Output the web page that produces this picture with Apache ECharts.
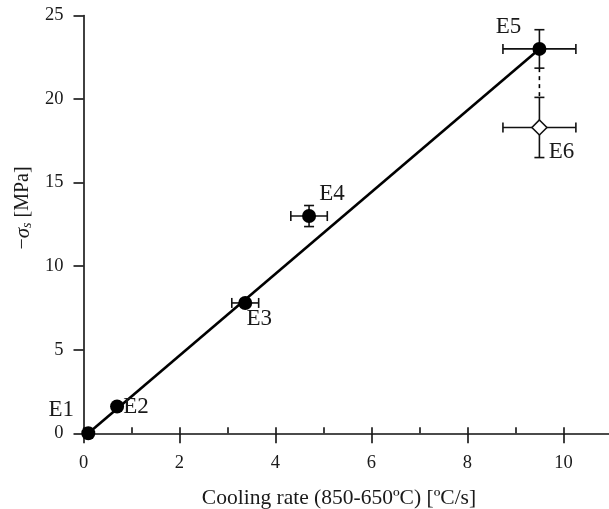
<!DOCTYPE html>
<html>
<head>
<meta charset="utf-8">
<script src="https://cdn.jsdelivr.net/npm/echarts@6/dist/echarts.min.js"></script>
<style>html,body{margin:0;padding:0;background:#fff;}#c{width:609px;height:509px;}</style>
</head>
<body>
<div id="c"></div>
<script>
// ---- data ----
const names = ['E1', 'E2', 'E3', 'E4', 'E5', 'E6'];
const xVals = [0.1, 0.7, 3.37, 4.7, 9.5, 9.5];
const yVals = [0, 1.6, 7.8, 13.0, 23.0, 18.3];
const xErr = [0, 0, 0.28, 0.38, 0.76, 0.76];
const yErr = [0, 0, 0, 0.63, 1.15, 1.8];
const fitX = [0.1, 9.5];
const fitY = [0, 23];
const xMajorTicks = [0, 2, 4, 6, 8, 10];
const xAllTicks = [0, 1, 2, 3, 4, 5, 6, 7, 8, 9, 10];
const yTicks = [0, 5, 10, 15, 20, 25];

const FONT = '"Liberation Serif", "DejaVu Serif", serif';
const INK = '#111';
const TXT = '#1a1a1a';

// label offsets (style)
const labelOffsets = [[-27, -23], [19, 0], [14, 16], [23, -22], [-31, -22], [22, 24]];

const chart = echarts.init(document.getElementById('c'), null, {renderer: 'canvas'});

const pointData = names.map((n, i) => ({
  value: [xVals[i], yVals[i]],
  name: n,
  symbol: i === 5 ? 'diamond' : 'circle',
  symbolSize: i === 5 ? 15 : 14,
  itemStyle: i === 5 ? {color: '#fff', borderColor: INK, borderWidth: 1.6, opacity: 1} : {color: '#000', opacity: 1},
  label: {show: true, position: 'inside', offset: labelOffsets[i], formatter: n,
          fontFamily: FONT, fontSize: 23, color: TXT, opacity: 1, textBorderWidth: 0,
          align: 'center', verticalAlign: 'middle'}
}));

const errData = names.map((n, i) => [xVals[i], yVals[i], xErr[i], yErr[i]]);

const option = {
  animation: false,
  backgroundColor: '#fff',
  grid: {left: 83.5, top: 15.5, right: 0, bottom: 75.7, containLabel: false},
  xAxis: [
    {
      type: 'value', min: 0, max: 10.95, gridIndex: 0, position: 'bottom',
      axisLine: {show: true, onZero: false, lineStyle: {color: INK, width: 1.6}},
      axisTick: {show: true, inside: true, length: 6, customValues: xAllTicks, lineStyle: {color: INK, width: 1.6}},
      axisLabel: {show: false},
      splitLine: {show: false}
    },
    {
      type: 'value', min: 0, max: 10.95, gridIndex: 0, position: 'bottom',
      axisLine: {show: false, onZero: false},
      axisTick: {show: true, inside: false, length: 10, customValues: xMajorTicks, lineStyle: {color: INK, width: 1.6}},
      axisLabel: {show: true, customValues: xMajorTicks, margin: 20, fontFamily: FONT, fontSize: 18.5, color: TXT},
      splitLine: {show: false}
    }
  ],
  yAxis: {
    type: 'value', min: 0, max: 25, interval: 5,
    axisLine: {show: true, onZero: false, lineStyle: {color: INK, width: 1.6}},
    axisTick: {show: true, inside: false, length: 10, lineStyle: {color: INK, width: 1.6}},
    axisLabel: {show: true, margin: 20, fontFamily: FONT, fontSize: 18.5, color: TXT},
    splitLine: {show: false}
  },
  graphic: [
    {type: 'text', x: 339, y: 498, z: 100,
     style: {text: 'Cooling rate (850-650ºC) [ºC/s]', font: '21.5px ' + FONT, fill: TXT,
             textAlign: 'center', textVerticalAlign: 'middle', align: 'center', verticalAlign: 'middle'}},
    {type: 'text', x: 23, y: 208, rotation: Math.PI / 2, z: 100,
     style: {text: '{m|−}{g|σ}{s|s}{m| [MPa]}', fill: TXT,
             textAlign: 'center', textVerticalAlign: 'middle', align: 'center', verticalAlign: 'middle',
             rich: {
               m: {fontFamily: FONT, fontSize: 20, fill: TXT, color: TXT},
               g: {fontFamily: FONT, fontSize: 21, fontStyle: 'italic', fill: TXT, color: TXT},
               s: {fontFamily: FONT, fontSize: 14, fontStyle: 'italic', fill: TXT, color: TXT, verticalAlign: 'bottom', padding: [8, 0, 0, 0]}
             }}}
  ],
  series: [
    {
      type: 'line', xAxisIndex: 0, yAxisIndex: 0, z: 2,
      data: fitX.map((x, i) => [x, fitY[i]]),
      symbol: 'none', lineStyle: {color: '#000', width: 2.6}, silent: true
    },
    {
      type: 'line', xAxisIndex: 0, yAxisIndex: 0, z: 2,
      data: [[xVals[4], yVals[4] - yErr[4]], [xVals[5], yVals[5] + yErr[5]]],
      symbol: 'none', lineStyle: {color: '#000', width: 1.6, type: [4, 4]}, silent: true
    },
    {
      type: 'custom', xAxisIndex: 0, yAxisIndex: 0, z: 3,
      data: errData,
      renderItem: function (params, api) {
        const x = api.value(0), y = api.value(1), ex = api.value(2), ey = api.value(3);
        const children = [];
        const st = {stroke: '#111', lineWidth: 1.6};
        const cap = 5;
        if (ex > 0) {
          const l = api.coord([x - ex, y]), r = api.coord([x + ex, y]);
          children.push({type: 'line', shape: {x1: l[0], y1: l[1], x2: r[0], y2: r[1]}, style: st});
          children.push({type: 'line', shape: {x1: l[0], y1: l[1] - cap, x2: l[0], y2: l[1] + cap}, style: st});
          children.push({type: 'line', shape: {x1: r[0], y1: r[1] - cap, x2: r[0], y2: r[1] + cap}, style: st});
        }
        if (ey > 0) {
          const t = api.coord([x, y + ey]), b = api.coord([x, y - ey]);
          children.push({type: 'line', shape: {x1: t[0], y1: t[1], x2: b[0], y2: b[1]}, style: st});
          children.push({type: 'line', shape: {x1: t[0] - cap, y1: t[1], x2: t[0] + cap, y2: t[1]}, style: st});
          children.push({type: 'line', shape: {x1: b[0] - cap, y1: b[1], x2: b[0] + cap, y2: b[1]}, style: st});
        }
        return {type: 'group', children: children};
      }
    },
    {
      type: 'scatter', xAxisIndex: 0, yAxisIndex: 0, z: 5,
      data: pointData
    }
  ]
};
chart.setOption(option);
</script>
</body>
</html>
